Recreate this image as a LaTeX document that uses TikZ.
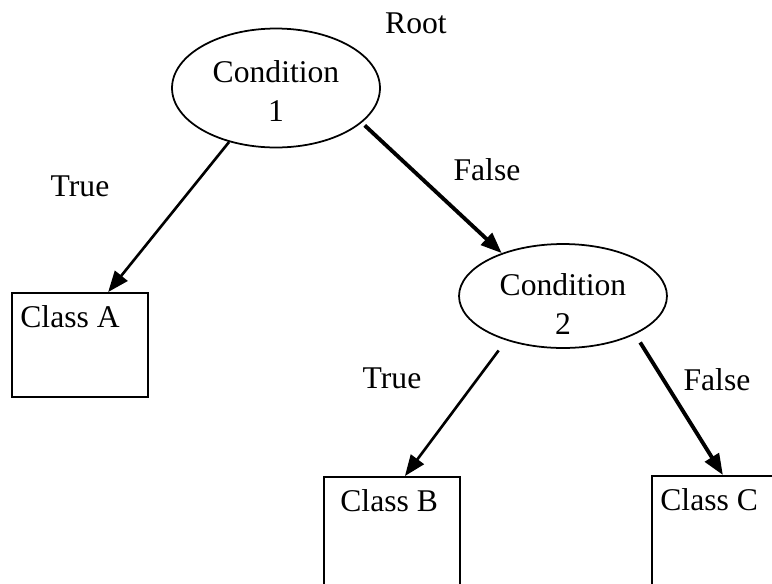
\documentclass[tikz,border=0pt]{standalone}
\usepackage{fontspec}
\setmainfont{Liberation Serif}
\usetikzlibrary{arrows.meta,shapes.geometric}
\newcommand\treefont{\fontsize{18pt}{22pt}\selectfont}
\tikzset{
  tree cond/.style={
    ellipse,
    draw,
    line width=1pt,
    inner sep=0pt,
    minimum width=4.16cm
  },
  tree cond text/.style={align=center, inner sep=0pt, font=\treefont},
  tree leaf/.style={draw, line width=1.1pt, minimum width=2.72cm, minimum height=2.2cm, inner sep=0pt},
  tree leaf text/.style={anchor=north west, inner xsep=0.18cm, inner ysep=0.27cm, font=\treefont},
  tree label/.style={font=\treefont, inner sep=0pt},
  tree true/.style={-{Triangle[length=0.42cm,width=0.32cm]}, line width=1.5pt},
  tree false/.style={tree true, line width=2.2pt}
}

\begin{document}
\begin{tikzpicture}[x=0.02cm, y=-0.02cm]
\useasboundingbox (0,0) rectangle (772,583);
\clip (0,0) rectangle (772,583);
% decision nodes, text sits a little below the centre
\node[tree cond, minimum height=2.38cm] (cond1) at (276,88) {};
\node[tree cond, minimum height=2.08cm] (cond2) at (563,296) {};
\node[tree cond text] (cond1txt) at (276,91) {Condition\\1};
\node[tree cond text] (cond2txt) at (563,304) {Condition\\2};
% leaves (B and C run off the bottom)
\node[tree leaf, minimum height=2.08cm] (leafA) at (80,345) {};
\node[tree leaf] (leafB) at (392,532) {};
\node[tree leaf] (leafC) at (720,531) {};
\node[tree leaf text] (txtA) at (leafA.north west) {Class A};
\node[tree leaf text, xshift=0.16cm] (txtB) at (leafB.north west) {Class B};
\node[tree leaf text] (txtC) at (leafC.north west) {Class C};
% branch labels
\node[tree label] (root) at (416,23) {Root};
\node[tree label] (t1) at (80,186) {True};
\node[tree label] (f1) at (487,170) {False};
\node[tree label] (t2) at (392,378) {True};
\node[tree label] (f2) at (717,380) {False};
% branches
\draw[tree true] (cond1.229) -- (leafA.62);
\draw[tree false, shorten <=0.08cm] (cond1.338) -- (cond2.145);
\draw[tree true, shorten <=0.25cm] (cond2.218) -- (leafB.77);
\draw[tree false, shorten <=0.19cm] (cond2.332) -- (leafC.87);
\end{tikzpicture}
\end{document}
